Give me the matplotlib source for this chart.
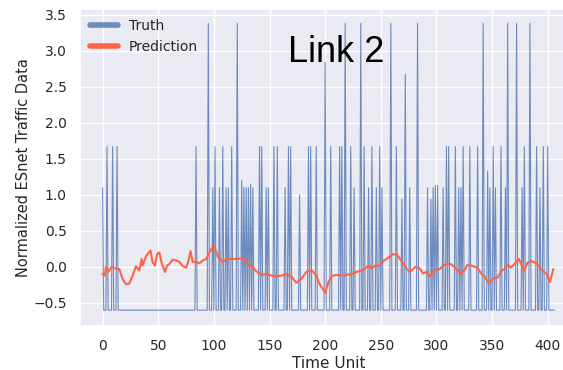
import numpy as np
import matplotlib
matplotlib.use("Agg")
import matplotlib.pyplot as plt
import seaborn as sns


N_POINTS = 407
BASELINE = -0.6

# truth: flat at the baseline except for these spikes
spike_t = [0, 4, 9, 13, 84, 95, 99, 101, 105, 108, 111, 113, 116, 121, 125, 127,
           129, 131, 133, 135, 141, 143, 147, 149, 154, 157, 164, 167, 169, 177,
           185, 187, 192, 200, 205, 213, 215, 218, 223, 226, 232, 235, 239, 242,
           246, 249, 251, 259, 264, 269, 272, 276, 283, 292, 295, 297, 299, 301,
           306, 309, 311, 317, 320, 322, 324, 330, 337, 342, 346, 348, 351, 353,
           358, 362, 364, 372, 377, 379, 384, 390, 393, 396, 400]
spike_v = [1.1, 1.67, 1.67, 1.67, 1.67, 3.38, 1.1, 1.67, 1.1, 1.67, 1.1, 1.1, 1.67, 3.38, 1.2, 1.1,
           1.1, 1.1, 1.15, 1.1, 1.67, 1.67, 1.1, 1.1, 1.67, 1.67, 1.1, 1.67, 1.67, 1.0,
           1.67, 1.67, 1.67, 2.84, 1.67, 1.67, 1.67, 3.38, 1.67, 1.1, 3.38, 1.67, 1.1, 1.67,
           1.1, 1.67, 1.1, 3.38, 1.67, 0.94, 2.67, 1.1, 3.38, 1.1, 0.94, 1.1, 1.13, 1.13,
           1.1, 1.67, 1.67, 1.67, 1.1, 1.1, 1.67, 1.67, 1.67, 3.38, 1.33, 1.1, 1.67, 1.1,
           1.67, 1.1, 3.38, 3.38, 1.1, 1.67, 3.38, 1.67, 1.1, 1.67, 1.67]

# prediction
pred_t = [0, 2, 3, 5, 8, 11, 15, 18, 21, 24, 27, 30, 33, 35, 36, 39, 43, 45, 47, 49,
          51, 53, 56, 58, 60, 63, 66, 69, 72, 75, 77, 79, 81, 84, 87, 90, 93, 96, 99,
          101, 104, 108, 111, 116, 120, 125, 128, 131, 135, 138, 143, 147, 152, 156,
          161, 165, 170, 174, 179, 183, 188, 192, 195, 198, 200, 203, 206, 210, 215,
          219, 224, 228, 233, 236, 239, 242, 245, 248, 252, 257, 261, 265, 269, 273,
          276, 281, 285, 288, 291, 294, 299, 303, 306, 309, 313, 318, 322, 325, 328,
          333, 337, 340, 343, 347, 351, 355, 358, 361, 364, 367, 370, 374, 376, 379,
          382, 385, 390, 394, 399, 402, 405]
pred_v = [-0.10, -0.12, 0.0, -0.07, 0.0, -0.02, -0.03, -0.17, -0.24, -0.23, -0.12, 0.01,
          -0.05, 0.11, 0.02, 0.15, 0.23, 0.06, 0.02, 0.18, 0.20, 0.06, -0.07, 0.02, 0.04,
          0.10, 0.09, 0.07, 0.01, -0.01, 0.07, 0.22, 0.07, 0.07, 0.05, 0.09, 0.11, 0.2,
          0.28, 0.26, 0.13, 0.07, 0.11, 0.11, 0.11, 0.12, 0.11, 0.02, 0.0, -0.06, -0.11,
          -0.10, -0.12, -0.13, -0.12, -0.10, -0.14, -0.22, -0.16, -0.07, -0.05, -0.12,
          -0.24, -0.31, -0.36, -0.21, -0.13, -0.11, -0.12, -0.11, -0.10, -0.07, -0.05,
          -0.02, 0.02, -0.02, 0.02, 0.01, 0.08, 0.13, 0.18, 0.16, 0.07, -0.02, -0.07,
          0.0, -0.02, -0.09, -0.07, -0.13, -0.04, -0.03, 0.02, 0.04, 0.04, -0.03, -0.10,
          -0.05, 0.03, 0.01, -0.01, -0.09, -0.13, -0.23, -0.16, -0.15, -0.06, -0.03,
          0.03, -0.01, 0.04, 0.11, 0.04, -0.05, 0.06, 0.08, 0.05, -0.03, -0.10, -0.21,
          -0.03]

x_ticks = [0, 50, 100, 150, 200, 250, 300, 350, 400]
y_ticks = [-0.5, 0.0, 0.5, 1.0, 1.5, 2.0, 2.5, 3.0, 3.5]


def build_truth():
    truth = np.full(N_POINTS, BASELINE)
    truth[spike_t] = spike_v
    return truth


def main():
    sns.set_theme(style="darkgrid")

    truth = build_truth()

    fig = plt.figure(figsize=(5.63, 3.70), dpi=100)
    ax = fig.add_axes([80 / 563, 44 / 370, 497 / 563, 317 / 370])

    ax.plot(np.arange(N_POINTS), truth, color="#4C72B0", linewidth=0.8,
            alpha=0.8, label="Truth")
    ax.plot(pred_t, pred_v, color="#FF6347", linewidth=1.5, label="Prediction")

    ax.set_xlim(-20.3, 426.3)
    ax.set_ylim(-0.82, 3.58)
    ax.set_xticks(x_ticks)
    ax.set_yticks(y_ticks)
    ax.tick_params(labelsize=10)

    ax.set_xlabel("Time Unit", fontsize=11, labelpad=2)
    ax.set_ylabel("Normalized ESnet Traffic Data", fontsize=10.5, labelpad=2)

    leg = ax.legend(loc="upper left", frameon=False, fontsize=10,
                    borderaxespad=0.3, handlelength=2.0)
    for line in leg.get_lines():
        line.set_linewidth(4)

    ax.text(0.515, 0.862, "Link 2", transform=ax.transAxes, ha="center",
            va="center", fontsize=26, family="Liberation Sans", color="black")

    fig.savefig("out.png", dpi=100)
    plt.close(fig)


if __name__ == "__main__":
    main()
